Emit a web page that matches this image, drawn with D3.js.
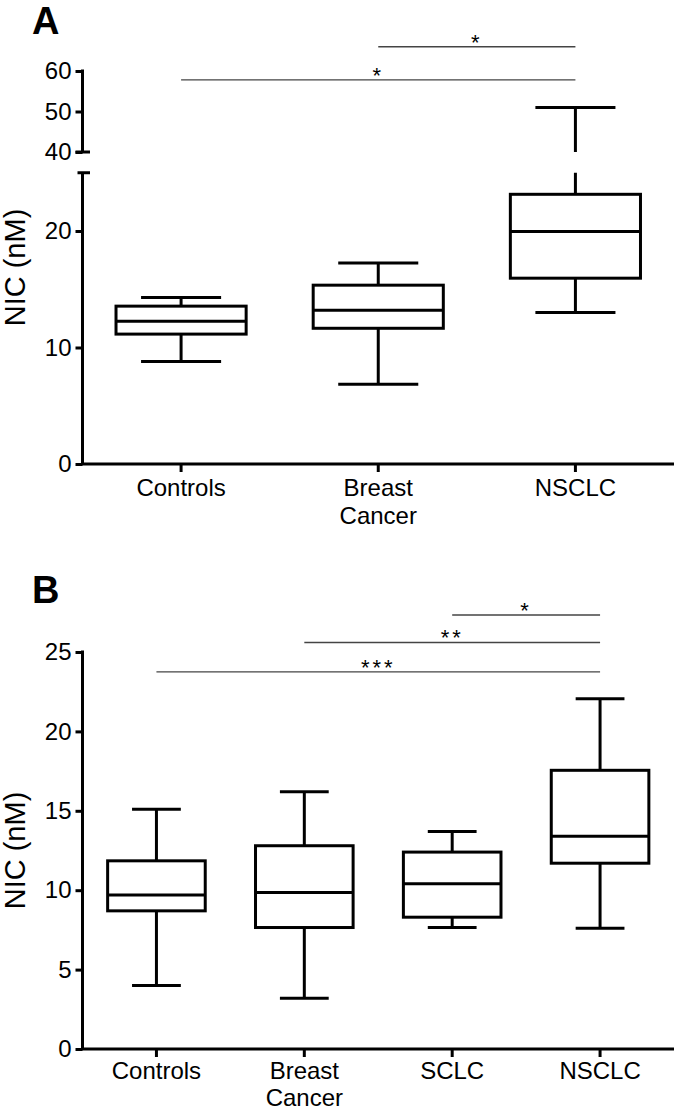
<!DOCTYPE html>
<html>
<head>
<meta charset="utf-8">
<script src="https://cdn.jsdelivr.net/npm/d3@7"></script>
<style>
  body { margin: 0; background: #fff; }
  svg { display: block; font-family: "Liberation Sans", Arial, sans-serif; }
</style>
</head>
<body>
<svg id="chart" width="678" height="1111"></svg>
<script>
// ---------- Panel A data ----------
const catsA = [["Controls"], ["Breast", "Cancer"], ["NSCLC"]];
const aLow  = [8.8, 6.85, 13.0];
const aQ1   = [11.15, 11.65, 15.95];
const aMed  = [12.25, 13.2, 19.95];
const aQ3   = [13.55, 15.35, 23.15];
const aHigh = [14.3, 17.25, 51.0];
const aTicksLow  = [0, 10, 20];
const aTicksHigh = [40, 50, 60];
const aSig = [ { from: 1, to: 2, label: "*", y: 66 }, { from: 0, to: 2, label: "*", y: 57.8 } ];

// ---------- Panel B data ----------
const catsB = [["Controls"], ["Breast", "Cancer"], ["SCLC"], ["NSCLC"]];
const bLow  = [4.0, 3.2, 7.65, 7.6];
const bQ1   = [8.7, 7.65, 8.3, 11.7];
const bMed  = [9.7, 9.85, 10.4, 13.4];
const bQ3   = [11.85, 12.8, 12.4, 17.55];
const bHigh = [15.1, 16.2, 13.7, 22.05];
const bTicks = [0, 5, 10, 15, 20, 25];
const bSig = [ { from: 2, to: 3, label: "*", y: 27.33 }, { from: 1, to: 3, label: "**", y: 25.6 }, { from: 0, to: 3, label: "***", y: 23.75 } ];

const svg = d3.select("#chart");
const axisX0 = 82.5, axisX1 = 674;
const lw = 3;

function drawPanel(opts) {
  const g = svg.append("g");
  const { cats, low, q1, med, q3, high, yFn, xAxisY, boxFrac, capFrac, sig, sigScale, labelOffset, labelGap } = opts;
  const x = d3.scalePoint().domain(d3.range(cats.length)).range([axisX0, axisX1]).padding(0.5);
  const step = x.step();
  const bw = step * boxFrac, cw = step * capFrac;

  // x axis
  g.append("line").attr("x1", axisX0 - lw/2).attr("x2", axisX1).attr("y1", xAxisY).attr("y2", xAxisY)
    .attr("stroke", "#000").attr("stroke-width", lw);
  cats.forEach((c, i) => {
    g.append("line").attr("x1", x(i)).attr("x2", x(i)).attr("y1", xAxisY).attr("y2", xAxisY + 8)
      .attr("stroke", "#000").attr("stroke-width", lw);
    const t = g.append("text").attr("x", x(i)).attr("y", xAxisY + labelOffset).attr("text-anchor", "middle")
      .attr("font-size", 24).attr("fill", "#000");
    c.forEach((line, j) => t.append("tspan").attr("x", x(i)).attr("dy", j === 0 ? 0 : labelGap).text(line));
  });

  // boxes
  cats.forEach((c, i) => {
    const cx = x(i);
    const segs = yFn.whisker(q3[i], high[i]).concat(yFn.whisker(low[i], q1[i]));
    segs.forEach(s => g.append("line").attr("x1", cx).attr("x2", cx).attr("y1", s[0]).attr("y2", s[1])
      .attr("stroke", "#000").attr("stroke-width", lw));
    [low[i], high[i]].forEach(v => g.append("line").attr("x1", cx - cw/2).attr("x2", cx + cw/2)
      .attr("y1", yFn(v)).attr("y2", yFn(v)).attr("stroke", "#000").attr("stroke-width", lw));
    g.append("rect").attr("x", cx - bw/2).attr("width", bw)
      .attr("y", yFn(q3[i])).attr("height", yFn(q1[i]) - yFn(q3[i]))
      .attr("fill", "#fff").attr("stroke", "#000").attr("stroke-width", lw);
    g.append("line").attr("x1", cx - bw/2).attr("x2", cx + bw/2).attr("y1", yFn(med[i])).attr("y2", yFn(med[i]))
      .attr("stroke", "#000").attr("stroke-width", lw);
  });

  // significance
  sig.forEach(s => {
    const yy = sigScale(s.y);
    g.append("line").attr("x1", x(s.from)).attr("x2", x(s.to)).attr("y1", yy).attr("y2", yy)
      .attr("stroke", "#444").attr("stroke-width", 1.4);
    g.append("text").attr("x", (x(s.from) + x(s.to)) / 2).attr("y", yy + 3).attr("text-anchor", "middle")
      .attr("font-size", 22).attr("letter-spacing", 3).attr("fill", "#000").text(s.label);
  });
  return g;
}

function styleAxis(sel) {
  sel.select(".domain").remove();
  sel.selectAll(".tick line").attr("stroke", "#000").attr("stroke-width", lw);
  sel.selectAll(".tick text").attr("font-size", 24).attr("fill", "#000")
    .attr("font-family", "Liberation Sans, Arial, sans-serif");
}

// ---------- Panel A ----------
const yLowA = d3.scaleLinear().domain([0, 25]).range([464, 172.75]);
const yHighA = d3.scaleLinear().domain([40, 60]).range([152, 71]);
function yA(v) { return v <= 25 ? yLowA(v) : yHighA(v); }
yA.whisker = function(a, b) {
  const segs = [];
  if (a < 25) segs.push([yLowA(a), yLowA(Math.min(b, 25))]);
  if (b > 40) segs.push([yHighA(Math.max(a, 40)), yHighA(b)]);
  return segs;
};

const axA1 = svg.append("g").attr("transform", `translate(${axisX0},0)`)
  .call(d3.axisLeft(yLowA).tickValues(aTicksLow).tickSize(7).tickPadding(4));
styleAxis(axA1);
const axA2 = svg.append("g").attr("transform", `translate(${axisX0},0)`)
  .call(d3.axisLeft(yHighA).tickValues(aTicksHigh).tickSize(7).tickPadding(4));
styleAxis(axA2);
// axis segments with break caps
svg.append("line").attr("x1", axisX0).attr("x2", axisX0).attr("y1", yLowA(0)).attr("y2", yLowA(25))
  .attr("stroke", "#000").attr("stroke-width", lw);
svg.append("line").attr("x1", axisX0 - 5).attr("x2", axisX0 + 7.5).attr("y1", yLowA(25)).attr("y2", yLowA(25))
  .attr("stroke", "#000").attr("stroke-width", lw);
svg.append("line").attr("x1", axisX0).attr("x2", axisX0).attr("y1", yHighA(40)).attr("y2", yHighA(60) - lw/2)
  .attr("stroke", "#000").attr("stroke-width", lw);
svg.append("line").attr("x1", axisX0 - 7).attr("x2", axisX0 + 7.5).attr("y1", yHighA(40)).attr("y2", yHighA(40))
  .attr("stroke", "#000").attr("stroke-width", lw);

drawPanel({ cats: catsA, low: aLow, q1: aQ1, med: aMed, q3: aQ3, high: aHigh, yFn: yA, xAxisY: 464,
  boxFrac: 0.66, capFrac: 0.406, sig: aSig, sigScale: yHighA, labelOffset: 32, labelGap: 28 });

svg.append("text").attr("x", 32).attr("y", 34).attr("font-size", 38).attr("font-weight", "bold").text("A");
svg.append("text").attr("transform", `translate(25,${(464 + 71) / 2}) rotate(-90)`).attr("text-anchor", "middle")
  .attr("font-size", 29).text("NIC (nM)");

// ---------- Panel B ----------
const yB = d3.scaleLinear().domain([0, 25]).range([1049, 652]);
function yBf(v) { return yB(v); }
yBf.whisker = (a, b) => [[yB(a), yB(b)]];
const axB = svg.append("g").attr("transform", `translate(${axisX0},0)`)
  .call(d3.axisLeft(yB).tickValues(bTicks).tickSize(7).tickPadding(4));
styleAxis(axB);
svg.append("line").attr("x1", axisX0).attr("x2", axisX0).attr("y1", yB(0)).attr("y2", yB(25) - lw/2)
  .attr("stroke", "#000").attr("stroke-width", lw);

drawPanel({ cats: catsB, low: bLow, q1: bQ1, med: bMed, q3: bQ3, high: bHigh, yFn: yBf, xAxisY: 1049,
  boxFrac: 0.66, capFrac: 0.33, sig: bSig, sigScale: yB, labelOffset: 30, labelGap: 27 });

svg.append("text").attr("x", 32).attr("y", 603).attr("font-size", 38).attr("font-weight", "bold").text("B");
svg.append("text").attr("transform", `translate(25,${(1049 + 652) / 2}) rotate(-90)`).attr("text-anchor", "middle")
  .attr("font-size", 29).text("NIC (nM)");
</script>
</body>
</html>
